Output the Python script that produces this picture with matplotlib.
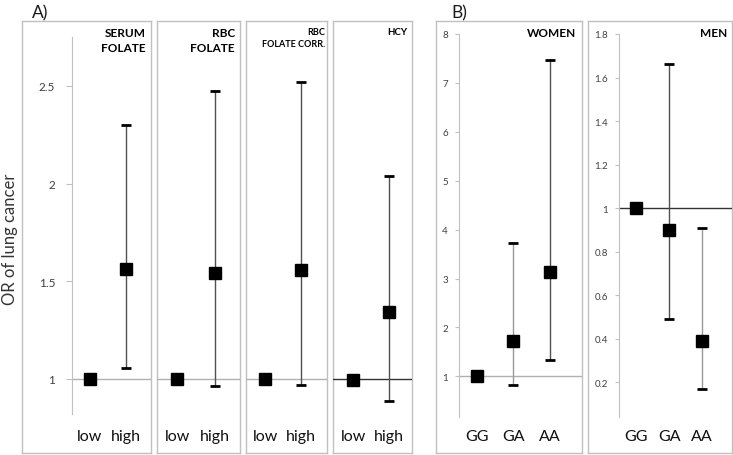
import numpy as np
import matplotlib.pyplot as plt

plt.rcParams['font.family'] = ['Lato', 'DejaVu Sans']

# DATA
a_titles = ["SERUM\nFOLATE", "RBC\nFOLATE", "RBC\nFOLATE CORR.", "HCY"]
a_cats = ["low", "high"]
a_or = [[1.0, 1.56], [1.0, 1.54], [1.0, 1.555], [0.995, 1.34]]
a_lo = [1.055, 0.965, 0.966, 0.886]   # CI of "high" only
a_hi = [2.30, 2.475, 2.52, 2.04]

b_cats = ["GG", "GA", "AA"]
women_or = [1.0, 1.72, 3.13]
women_lo = [np.nan, 0.82, 1.33]
women_hi = [np.nan, 3.73, 7.47]
men_or = [1.0, 0.90, 0.39]
men_lo = [np.nan, 0.49, 0.17]
men_hi = [np.nan, 1.66, 0.91]

W, H = 733, 456


def box(x0, x1, y0, y1):
    return [x0 / W, 1 - y1 / H, (x1 - x0) / W, (y1 - y0) / H]


fig = plt.figure(figsize=(W / 100, H / 100), dpi=100)
fig.patch.set_facecolor('white')

frame_col = '#c0c0c0'
# panel frames
for x0, x1 in [(22, 151), (157, 240), (246, 327), (333, 412), (436, 582), (588, 732)]:
    fa = fig.add_axes(box(x0, x1, 22, 454))
    fa.set_xticks([])
    fa.set_yticks([])
    for s in fa.spines.values():
        s.set_color(frame_col)
        s.set_linewidth(1)


def draw_ci(ax, x, y, lo, hi, lcol):
    ax.errorbar([x], [y], yerr=[[y - lo], [hi - y]], fmt='none', ecolor=lcol,
                elinewidth=1, capsize=0, zorder=2)
    ax.plot([x, x], [lo, hi], marker='_', ms=7.2, mew=2, ls='none', color='black', zorder=2)


def style(ax, yaxis):
    ax.patch.set_visible(False)
    for k in ['top', 'right', 'bottom']:
        ax.spines[k].set_visible(False)
    ax.spines['left'].set_visible(yaxis)
    ax.spines['left'].set_color(frame_col)
    ax.tick_params(axis='y', length=4, color=frame_col, labelcolor='#404040')
    ax.tick_params(axis='x', length=0, labelsize=11.5, labelcolor='#111111')


# A) panels
a_px = [(72, 151), (157, 240), (246, 327), (333, 412)]
a_xlim = [(-0.5, 1.69), (-0.53, 1.66), (-0.53, 1.72), (-0.56, 1.64)]
a_ref = ['#b0b0b0', '#b0b0b0', '#b0b0b0', '#333333']
for i in range(4):
    ax = fig.add_axes(box(a_px[i][0], a_px[i][1], 38, 415))
    style(ax, i == 0)
    ax.set_ylim(0.82, 2.75)
    ax.set_xlim(*a_xlim[i])
    ax.axhline(1, color=a_ref[i], lw=1, zorder=1)
    draw_ci(ax, 1, a_or[i][1], a_lo[i], a_hi[i], '#505050')
    ax.plot(range(2), a_or[i], 's', ms=8, color='black', zorder=3)
    ax.set_xticks(range(2))
    ax.set_xticklabels(a_cats)
    ax.tick_params(axis='x', pad=11)
    if i == 0:
        ax.set_yticks([1, 1.5, 2, 2.5])
        ax.set_yticklabels(['1', '1.5', '2', '2.5'])
        ax.tick_params(axis='y', labelsize=8.5, pad=8)
    else:
        ax.set_yticks([])

a_tx = [146, 235, 325, 407]
a_fs = [8.5, 8.5, 6.5, 7]
for t, x, fs in zip(a_titles, a_tx, a_fs):
    fig.text(x / W, 1 - 28 / H, t, ha='right', va='top', fontsize=fs,
             fontweight='bold', linespacing=1.4)

# B) panels
b_specs = [
    ((459, 582), (0.17, 8), (-0.49, 2.88), women_or, women_lo, women_hi,
     '#b0b0b0', ['#999999', '#505050'], [1, 2, 3, 4, 5, 6, 7, 8],
     ['1', '2', '3', '4', '5', '6', '7', '8']),
    ((619, 732), (0.04, 1.8), (-0.52, 2.9), men_or, men_lo, men_hi,
     '#333333', ['#505050', '#999999'], [0.2, 0.4, 0.6, 0.8, 1, 1.2, 1.4, 1.6, 1.8],
     ['0.2', '0.4', '0.6', '0.8', '1', '1.2', '1.4', '1.6', '1.8']),
]
for (px, ylim, xlim, orv, lo, hi, ref, lcols, yt, ytl) in b_specs:
    ax = fig.add_axes(box(px[0], px[1], 35, 418))
    style(ax, True)
    ax.set_ylim(*ylim)
    ax.set_xlim(*xlim)
    ax.axhline(1, color=ref, lw=1, zorder=1)
    for j in (1, 2):
        draw_ci(ax, j, orv[j], lo[j], hi[j], lcols[j - 1])
    ax.plot(range(3), orv, 's', ms=8, color='black', zorder=3)
    ax.set_xticks(range(3))
    ax.set_xticklabels(b_cats)
    ax.tick_params(axis='x', pad=9)
    ax.set_yticks(yt)
    ax.set_yticklabels(ytl)
    ax.tick_params(axis='y', labelsize=7, pad=5, length=3)

fig.text(576 / W, 1 - 28 / H, "WOMEN", ha='right', va='top', fontsize=8.5, fontweight='bold')
fig.text(727 / W, 1 - 28 / H, "MEN", ha='right', va='top', fontsize=8.5, fontweight='bold')

fig.text(40 / W, 1 - 13 / H, "A)", ha='center', va='center', fontsize=12.5, color='#1a1a1a')
fig.text(459 / W, 1 - 13 / H, "B)", ha='center', va='center', fontsize=12.5, color='#1a1a1a')
fig.text(10 / W, 1 - 239 / H, "OR of lung cancer", rotation=90, ha='center', va='center',
         fontsize=12, color='#333333')

fig.savefig('out.png', dpi=100)
